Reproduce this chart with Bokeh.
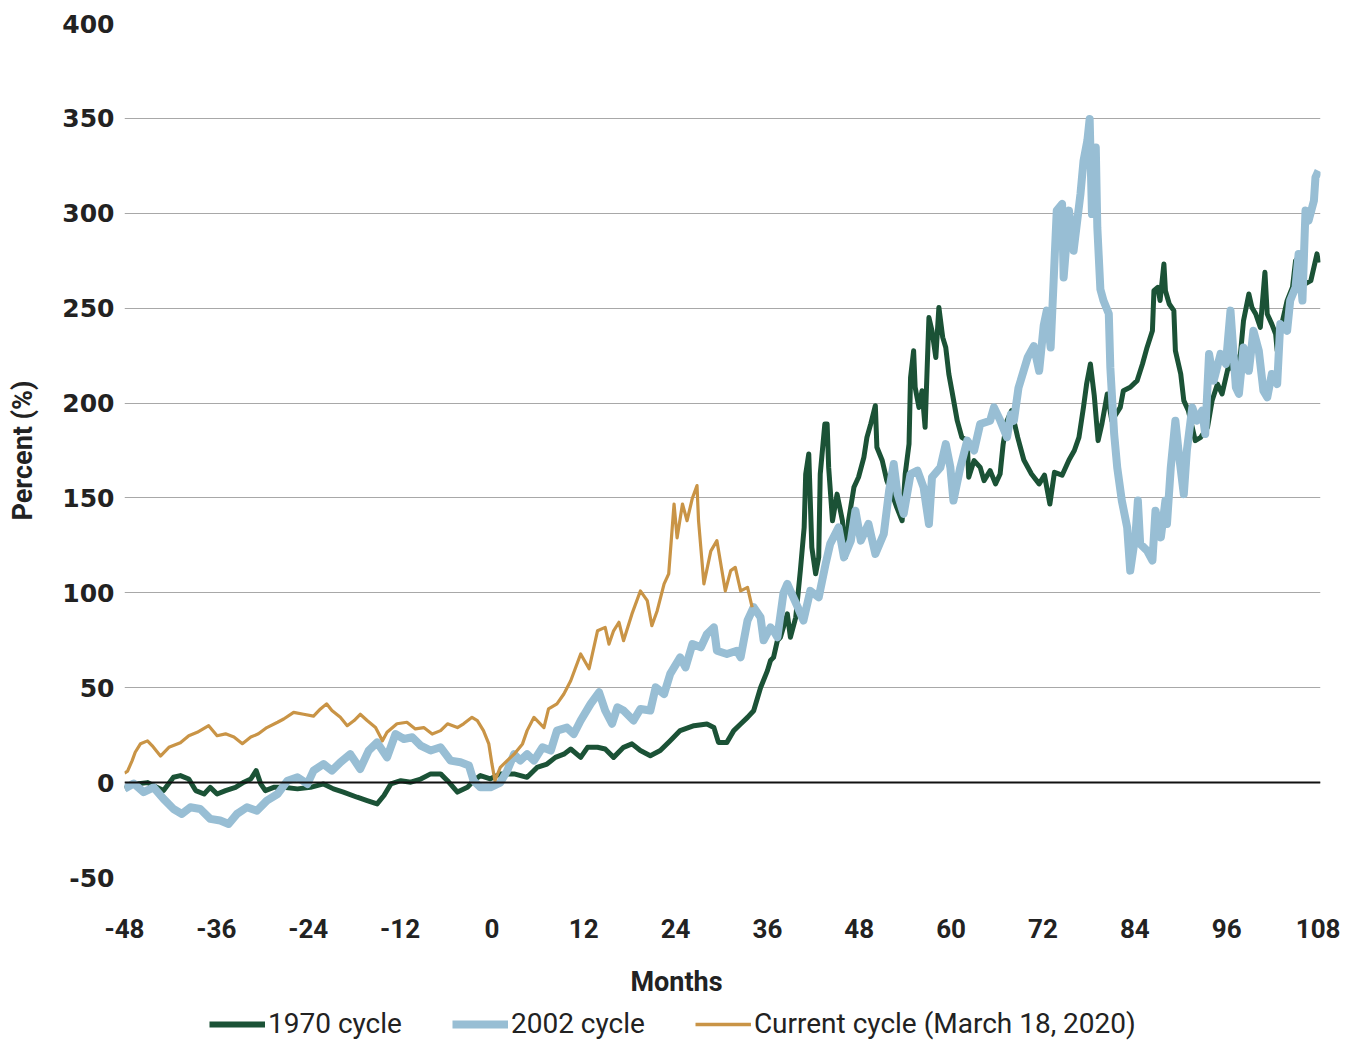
from bokeh.plotting import figure
from bokeh.models import Range1d, Span, Legend, LegendItem, FixedTicker, Label
from bokeh.layouts import column
from bokeh.embed import file_html
from bokeh.resources import INLINE

# ---- data ----
x_ticks = [-48, -36, -24, -12, 0, 12, 24, 36, 48, 60, 72, 84, 96, 108]
y_ticks = [-50, 0, 50, 100, 150, 200, 250, 300, 350, 400]

months_1970 = [-48.0, -47.0, -45.0, -44.0, -42.9, -41.6, -40.7, -39.6, -38.7, -37.6, -36.8, -35.9, -34.8,
               -33.5, -32.4, -31.5, -30.8, -30.2, -29.6, -28.5, -27.2, -25.4, -23.7, -22.0, -20.7, -19.4,
               -17.6, -16.3, -15.0, -14.1, -13.2, -11.9, -10.6, -9.3, -8.0, -6.7, -5.8, -4.5, -3.2, -2.4,
               -1.5, -0.2, 1.1, 2.9, 4.6, 5.9, 7.2, 8.3, 9.4, 10.3, 11.6, 12.5, 13.8, 14.8, 15.9, 17.2,
               18.3, 19.4, 20.7, 22.0, 23.3, 24.6, 26.4, 28.1, 29.0, 29.6, 30.7, 31.6, 32.5, 33.4, 34.2,
               35.1, 36.0, 36.4, 36.8, 37.3, 37.7, 38.6, 39.0, 39.7, 40.3, 40.8, 41.0, 41.4, 41.8, 42.3,
               42.7, 42.9, 43.5, 43.8, 44.0, 44.5, 45.1, 45.8, 46.2, 46.6, 47.3, 47.9, 48.6, 49.0, 49.5,
               50.1, 50.3, 51.0, 51.6, 52.3, 52.9, 53.6, 54.0, 54.5, 54.7, 55.1, 55.3, 55.8, 56.2, 56.6,
               57.1, 57.5, 58.0, 58.4, 58.9, 59.3, 59.7, 60.1, 60.8, 61.4, 62.1, 62.3, 63.0, 63.8, 64.3,
               65.1, 65.8, 66.4, 66.8, 67.3, 67.9, 68.7, 69.5, 70.5, 71.5, 72.2, 72.9, 73.5, 74.5, 75.4,
               76.1, 76.7, 77.3, 77.7, 78.2, 78.7, 79.2, 79.7, 80.4, 81.0, 82.1, 82.5, 83.4, 84.3, 85.0,
               85.6, 86.3, 86.5, 87.0, 87.3, 87.8, 88.0, 88.5, 89.1, 89.3, 90.0, 90.4, 91.0, 91.9, 92.6,
               93.5, 94.1, 94.8, 95.4, 96.3, 96.9, 97.8, 98.2, 98.9, 99.3, 99.8, 100.4, 101.0, 101.3,
               101.9, 102.4, 102.6, 103.3, 103.9, 104.6, 105.0, 105.7, 106.2, 107.0, 107.8, 108.0]
values_1970 = [-3, -1, 0, -2, -4.2, 2.8, 3.7, 1.9, -4.2, -6, -2.5, -6, -4.2,
               -2.5, 0.2, 1.9, 6.3, -0.7, -4.2, -2.5, -2.5, -3.3, -2.5, -0.7, -3.3, -5,
               -7.7, -9.5, -11.2, -6.8, -0.7, 1, 0.2, 1.9, 4.6, 4.6, 1, -5, -2.5, 1,
               3.7, 2, 4.6, 4.6, 2.8, 8, 9.8, 13.3, 15, 17.7, 13.3, 18.6, 18.6, 17.7, 13.3, 18.6,
               20.4, 16.9, 14.2, 16.9, 22.1, 27.4, 30, 30.9, 29.1, 21.2, 21.2, 27.4, 30.9, 34.4, 37.9,
               50, 59, 64.3, 66, 74.8, 76.6, 88.9, 76.6, 87.1, 111.7, 134.5, 162.6, 173.2, 124, 110,
               118.7, 162.6, 189, 189, 166.1, 138, 152, 138, 118.7, 138, 155.6, 160.9, 171.4, 181.9, 189,
               198.6, 176.7, 169.7, 159.1, 152, 145, 138, 162.6, 178.4, 213.5, 227.6, 208.3, 197.7, 206.5, 187.2,
               245.1, 238.1, 224, 250.4, 234.6, 229.3, 215.3, 206.5, 190.7, 181.9, 180.2, 160.9, 169.7, 166.1, 159.1,
               164.4, 157.4, 162.6, 178.4, 190.7, 196, 181.9, 170, 162.6, 157.4, 162, 146.8, 163.5, 162, 170,
               175, 181.9, 198, 210, 220.6, 204, 180.2, 189, 204.8, 190.7, 197.7, 206.5, 208.3, 211.8, 220.6,
               229.3, 238.1, 259.2, 261, 254, 273.3, 259.2, 252.2, 248.7, 227.6, 215.3, 201.3, 196, 180.2, 181.9,
               187.2, 201.3, 210, 204.8, 220.6, 217, 225.9, 243.4, 257.5, 250.4, 246.9, 239.9, 268.9, 246.9,
               241.6, 236.4, 227.6, 243.4, 254, 261, 275, 278.6, 262.7, 264.5, 278.6, 274]

months_2002 = [-48.0, -46.8, -45.5, -44.2, -42.9, -41.6, -40.5, -39.4, -38.1, -36.8, -35.5, -34.4, -33.3,
               -32.0, -30.7, -29.4, -28.0, -26.7, -25.4, -24.1, -23.3, -22.0, -20.9, -19.8, -18.5, -17.2,
               -16.1, -15.0, -13.7, -12.6, -11.5, -10.4, -9.3, -8.0, -6.7, -5.4, -4.1, -3.0, -2.4, -1.5,
               -0.2, 1.1, 2.0, 2.9, 3.7, 4.6, 5.5, 6.6, 7.7, 8.5, 9.8, 10.7, 11.6, 12.9, 14.0, 14.8,
               15.7, 16.4, 17.2, 18.5, 19.4, 20.7, 21.4, 22.5, 23.3, 24.6, 25.3, 26.2, 27.3, 28.1, 29.0,
               29.4, 30.7, 32.0, 32.5, 33.4, 34.2, 35.1, 35.5, 36.4, 36.8, 37.3, 38.1, 38.6, 39.0, 39.9,
               40.7, 41.6, 42.7, 43.6, 44.2, 45.3, 46.0, 46.9, 47.5, 48.2, 49.2, 50.1, 51.2, 51.9, 52.5,
               53.0, 53.8, 54.7, 55.6, 56.4, 57.1, 57.5, 58.6, 59.3, 59.9, 60.3, 61.2, 62.1, 63.0, 63.8,
               65.1, 65.6, 66.4, 67.3, 67.8, 68.2, 68.8, 70.0, 70.8, 71.5, 72.1, 72.5, 73.0, 73.4, 73.8,
               74.5, 74.7, 75.4, 76.0, 76.9, 77.3, 77.8, 78.1, 78.4, 78.9, 79.1, 79.5, 79.9, 80.6, 80.8,
               81.3, 81.7, 82.3, 83.0, 83.4, 84.1, 84.4, 84.7, 85.6, 86.3, 86.7, 87.4, 88.0, 88.2, 88.7,
               89.3, 89.7, 90.4, 90.8, 91.5, 92.1, 92.8, 93.2, 93.7, 94.3, 95.2, 95.9, 96.5, 97.2, 97.6,
               98.2, 98.9, 99.5, 100.2, 100.8, 101.3, 101.9, 102.6, 103.0, 103.9, 104.3, 105.0, 105.4,
               105.9, 106.3, 106.7, 107.4, 107.6, 108.0]
values_2002 = [-3.3, -0.5, -5, -2.5, -8.6, -13.9, -16.5, -13, -13.9, -19.1, -20, -21.8, -16.5,
               -13, -14.8, -9.5, -6, 1, 2.8, -0.7, 6.3, 9.8, 6.3, 10.7, 15, 7.2,
               16.9, 21.2, 13.3, 25.6, 23, 23.9, 19.5, 16.9, 18.6, 11.6, 10.7, 9, 1, -2.5,
               -2.5, 0, 6.3, 15, 11.6, 15, 11.6, 18.6, 16.9, 27.4, 29, 25.6, 32.7, 41.5, 47.6, 38,
               31, 39.7, 38, 32.7, 38.8, 38, 50.2, 46.7, 57.3, 66, 60.7, 73, 71.3, 78.3, 81.8,
               69.5, 67.8, 69.5, 66, 85.4, 92.4, 87.1, 75, 81.8, 80, 76.6, 100, 104.7, 101, 93,
               85.4, 101, 97.6, 115.2, 125.8, 134.5, 118.7, 127.5, 143.3, 127.5, 136.3, 120.5, 131, 153.8, 167.9,
               152, 141.6, 162.6, 164.4, 155.6, 136.3, 160.9, 166.1, 178.4, 166.1, 148.6, 166.1, 180.2, 175, 189,
               190.7, 197.7, 191, 182, 194, 190.7, 208, 224, 230, 217, 241, 248.7, 229.3, 265, 301.4,
               304.9, 266.2, 301.4, 280.3, 310.2, 327.7, 338.3, 349.7, 299.6, 334.7, 292.6, 260, 254, 247, 218.8,
               183.7, 166.1, 148.6, 134.5, 111.7, 131, 148.6, 125.8, 122.2, 117, 143.3, 129.2, 148.6, 136.3, 166.1,
               190.7, 175, 152, 175, 197.7, 190.7, 196, 183.7, 225.9, 211.8, 225.9, 220.6, 248.7, 208.3, 204.8,
               229.3, 217, 238.1, 227.6, 206.5, 203, 215.3, 210, 241.6, 238.1, 254, 261, 278.6,
               254, 301.4, 296.1, 306.6, 318.9, 322.4]

months_current = [-48.0, -47.6, -47.0, -46.6, -45.9, -45.0, -44.4, -43.3, -42.2, -40.7, -39.6, -38.5, -37.0,
                  -35.9, -34.8, -33.7, -32.6, -31.5, -30.5, -29.4, -28.0, -27.2, -25.9, -24.6, -23.3, -22.4,
                  -21.6, -20.9, -19.8, -18.9, -18.0, -17.2, -16.3, -15.2, -14.3, -13.7, -12.4, -11.1, -10.0,
                  -8.9, -7.8, -6.7, -5.8, -4.5, -3.7, -2.6, -1.9, -1.1, -0.4, 0.0, 0.4, 1.1, 2.0, 2.9, 4.0,
                  4.6, 5.5, 6.8, 7.4, 8.5, 9.4, 10.3, 11.6, 12.7, 13.8, 14.8, 15.3, 15.9, 16.6, 17.2, 18.3,
                  19.4, 20.3, 20.9, 21.6, 22.5, 23.1, 23.8, 24.2, 24.9, 25.5, 26.2, 26.8, 27.0, 27.7, 28.6,
                  29.4, 30.5, 31.2, 31.8, 32.5, 33.4, 34.0]
values_current = [5, 6, 11.6, 16, 20.5, 22, 19.5, 14, 18.6, 21, 24.7, 26.5, 30,
                  24.7, 25.7, 24, 20.5, 24, 25.7, 29, 31.8, 33.5, 37, 36, 35, 38.8,
                  41.5, 38, 34.4, 30, 32.7, 36, 32.7, 29, 22, 26.5, 31, 31.8, 28.3,
                  29, 25.6, 27.4, 31, 29, 31, 34.4, 32.7, 27.4, 20.4, 10, 1, 8, 11.6, 15, 20.4,
                  27.4, 34.4, 29, 38.8, 41.5, 46.7, 53.7, 67.8, 60, 80, 81.8, 73, 80, 84.5, 74.8, 88.9,
                  101, 95.9, 82.7, 90.6, 104.7, 110, 146.8, 129, 146.8, 138, 150, 156.5, 138, 104.7, 122,
                  127.5, 101, 111.7, 113.4, 101, 102.9, 92.4]

series_names = ["1970 cycle", "2002 cycle", "Current cycle (March 18, 2020)"]
x_title = "Months"
y_title = "Percent (%)"

# ---- styling ----
GREEN = "#1b5236"
BLUE = "#98bed4"
TAN = "#c99446"
TEXT = "#222222"

W = 1340
H_MAIN = 952
H_STRIP = 88
FRAME_L, FRAME_R, FRAME_T, FRAME_B = 124, 1320, 23, 877

p = figure(width=W, height=H_MAIN, output_backend="svg", toolbar_location=None,
           x_range=Range1d(-48, 108.26), y_range=Range1d(-50, 400),
           min_border_left=FRAME_L, min_border_right=W - FRAME_R,
           min_border_top=FRAME_T, min_border_bottom=H_MAIN - FRAME_B)
p.outline_line_color = None
p.background_fill_color = "white"
p.border_fill_color = "white"

p.xgrid.grid_line_color = None
p.ygrid.ticker = FixedTicker(ticks=y_ticks)
p.ygrid.grid_line_color = "#a8a8a8"
p.ygrid.grid_line_width = 1

p.xaxis.ticker = FixedTicker(ticks=x_ticks)
p.yaxis.ticker = FixedTicker(ticks=y_ticks)
p.xaxis.major_label_overrides = {t: str(t) for t in x_ticks}
p.yaxis.major_label_overrides = {t: str(t) for t in y_ticks}
for ax in (p.xaxis[0], p.yaxis[0]):
    ax.axis_line_color = None
    ax.major_tick_line_color = None
    ax.minor_tick_line_color = None
    ax.major_tick_in = 0
    ax.major_tick_out = 0
    ax.major_label_text_color = TEXT
    ax.axis_label_text_color = TEXT
    ax.axis_label_text_font_style = "bold"

p.xaxis.major_label_text_font = "Roboto"
p.xaxis.major_label_text_font_size = "26px"
p.xaxis.major_label_text_font_style = "bold"
p.xaxis.major_label_standoff = 41

p.yaxis.major_label_text_font = "DejaVu Sans"
p.yaxis.major_label_text_font_size = "25px"
p.yaxis.major_label_text_font_style = "bold"
p.yaxis.major_label_standoff = 10
p.yaxis.axis_label = y_title
p.yaxis.axis_label_text_font = "Roboto"
p.yaxis.axis_label_text_font_size = "27px"
p.yaxis.axis_label_standoff = 20

r1 = p.line(months_1970, values_1970, line_color=GREEN, line_width=5, line_join="round")
r2 = p.line(months_2002, values_2002, line_color=BLUE, line_width=8, line_join="round")
r3 = p.line(months_current, values_current, line_color=TAN, line_width=3.2, line_join="round")

p.add_layout(Span(location=0, dimension="width", line_color="#111111", line_width=2))

# ---- strip under the chart: x-axis title and legend (series lie outside this strip's view) ----
lg = figure(width=W, height=H_STRIP, output_backend="svg", toolbar_location=None,
            x_range=Range1d(1000, 1001), y_range=Range1d(1000, 1001),
            min_border_left=FRAME_L, min_border_right=W - FRAME_R, min_border_top=0, min_border_bottom=0,
            x_axis_location=None, y_axis_location=None)
lg.outline_line_color = None
lg.grid.visible = False
lg.background_fill_color = "white"
lg.border_fill_color = "white"

lg.add_layout(Label(x=676 - FRAME_L, y=H_STRIP - (981 - H_MAIN), x_units="screen", y_units="screen",
                    text=x_title, text_align="center", text_baseline="middle",
                    text_font="Roboto", text_font_size="27px", text_font_style="bold", text_color=TEXT))

k1 = lg.line(months_1970, values_1970, line_color=GREEN, line_width=6)
k2 = lg.line(months_2002, values_2002, line_color=BLUE, line_width=8)
k3 = lg.line(months_current, values_current, line_color=TAN, line_width=3.5)

legend = Legend(items=[LegendItem(label=n, renderers=[k]) for n, k in zip(series_names, [k1, k2, k3])],
                orientation="horizontal", location=(209 - FRAME_L, 0))
legend.glyph_width = 56
legend.glyph_height = 20
legend.label_standoff = 3
legend.spacing = 50
legend.padding = 0
legend.margin = 0
legend.border_line_color = None
legend.background_fill_alpha = 0
legend.label_text_font = "Roboto"
legend.label_text_font_size = "28px"
legend.label_text_color = TEXT
lg.add_layout(legend)

layout = column(p, lg, spacing=0)
open("out.html", "w").write(file_html(layout, INLINE))
